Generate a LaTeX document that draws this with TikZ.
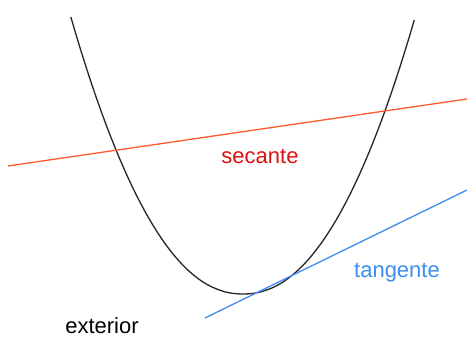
\documentclass[tikz,border=0pt]{standalone}
\usepackage{fontspec}
\setmainfont{Liberation Sans}
\definecolor{secred}{HTML}{FF5A2E}
\definecolor{sectext}{HTML}{E01010}
\definecolor{tanblue}{HTML}{3D8EF0}
\begin{document}
\begin{tikzpicture}[x=1pt,y=-1pt,
  lbl/.style={font=\fontsize{22}{26}\selectfont, inner sep=0pt, anchor=base},
  curve/.style={line width=1.3pt, black!85}]
\useasboundingbox[fill=white] (0,0) rectangle (467,344);
% parabola
\draw[curve] plot[domain=-0.995:0.99, samples=100, smooth] ({243+173*\x},{294-280*pow(abs(\x),2.15)});
% secant
\coordinate (s1) at (8,166);
\coordinate (s2) at (467,99);
\draw[secred, line width=1.3pt] (s1) -- (s2);
% tangent
\coordinate (t1) at (205,318);
\coordinate (t2) at (467,190);
\draw[tanblue, line width=1.3pt] (t1) -- (t2);
% labels
\node[lbl, text=sectext] (sec) at (260,164) {secante};
\node[lbl, text=tanblue] (tan) at (397,278) {tangente};
\node[lbl, text=black] (ext) at (102,334) {exterior};
\end{tikzpicture}
\end{document}
